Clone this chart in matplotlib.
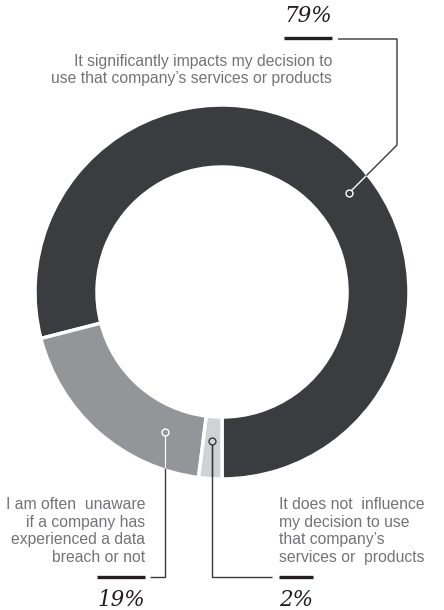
import numpy as np
import matplotlib
matplotlib.use("Agg")
import matplotlib.pyplot as plt
from matplotlib.patches import Circle

# 调查结果：数据泄露对使用公司服务/产品决策的影响
shares = [79, 19, 2]
pct_labels = ["79%", "19%", "2%"]
answers = [
    "It significantly impacts my decision to\nuse that company\u2019s services or products",
    "I am often  unaware\nif a company has\nexperienced a data\nbreach or not",
    "It does not  influence\nmy decision to use\nthat company\u2019s\nservices or  products",
]
slice_colors = ["#3a3c3f", "#939598", "#d1d2d4"]

W, H = 444, 610
fig = plt.figure(figsize=(W / 100, H / 100), dpi=100)
ax = fig.add_axes([0, 0, 1, 1])

cx, cy, R, ring = 222, H - 292, 187, 62
ax.pie(shares, radius=R, center=(cx, cy), startangle=-90, counterclock=True,
       colors=slice_colors,
       wedgeprops=dict(width=ring, edgecolor="white", linewidth=2.5))
ax.set_xlim(0, W)
ax.set_ylim(0, H)
ax.set_aspect("equal")
ax.axis("off")

line_c = "#3a3a3a"
bar_c = "#231f20"
text_c = "#737477"
sans = ["Liberation Sans", "DejaVu Sans"]


def leader(pts, inner_c, face_c):
    # 折线：环内一段用浅色，环外一段用深色
    xs = [p[0] for p in pts]
    ys = [H - p[1] for p in pts]
    ax.plot(xs, ys, color=line_c, lw=1.0, zorder=3, solid_capstyle="butt")
    clip = Circle((cx, cy), R - 1.5, transform=ax.transData)
    seg, = ax.plot(xs, ys, color=inner_c, lw=1.0, zorder=4, solid_capstyle="butt")
    seg.set_clip_path(clip)
    ax.plot(xs[0], ys[0], "o", ms=5, mfc=face_c, mec=inner_c, mew=1.0, zorder=5)


def bar(x0, x1, y):
    ax.plot([x0, x1], [H - y, H - y], color=bar_c, lw=2.4, solid_capstyle="butt", zorder=3)


# 79%
leader([(349, 193), (397, 145), (397, 39), (338, 39)], "white", slice_colors[0])
bar(284, 332, 38)
ax.text(308, H - 16, pct_labels[0], ha="center", va="center", fontsize=15.5,
        family="DejaVu Serif", style="italic", color="#231f20")
ax.text(332, H - 70, answers[0], ha="right", va="center", fontsize=11.3,
        family=sans, color=text_c, linespacing=1.2)

# 19%
leader([(165, 432), (165, 577), (150, 577)], "white", slice_colors[1])
bar(97, 145, 577)
ax.text(121, H - 600, pct_labels[1], ha="center", va="center", fontsize=15.5,
        family="DejaVu Serif", style="italic", color="#231f20")
ax.text(145, H - 531, answers[1], ha="right", va="center", fontsize=11.3,
        family=sans, color=text_c, linespacing=1.2)

# 2%
leader([(212, 441), (212, 577), (272, 577)], line_c, slice_colors[2])
bar(279, 313, 577)
ax.text(279, H - 600, pct_labels[2], ha="left", va="center", fontsize=15.5,
        family="DejaVu Serif", style="italic", color="#231f20")
ax.text(279, H - 531, answers[2], ha="left", va="center", fontsize=11.3,
        family=sans, color=text_c, linespacing=1.2)

fig.savefig("out.png", dpi=100, facecolor="white")
